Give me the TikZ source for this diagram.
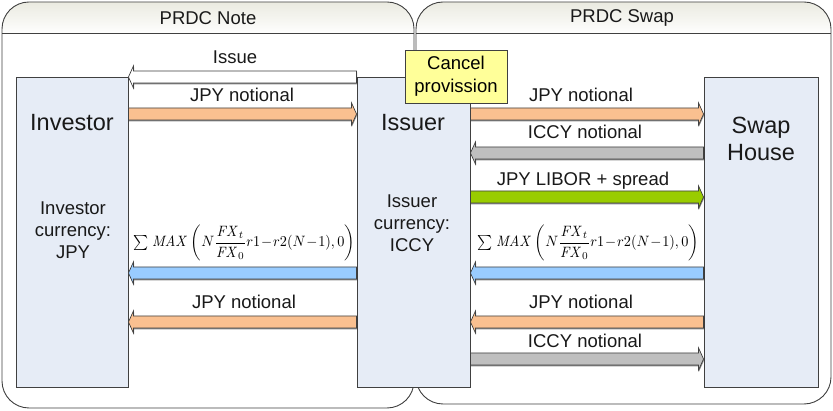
\documentclass[tikz,border=0pt]{standalone}
\usepackage[no-math]{fontspec}
\setmainfont{Liberation Sans}
\usepackage{graphicx}
\usetikzlibrary{calc,shadows}
\definecolor{boxfill}{RGB}{230,236,246}
\definecolor{edge}{RGB}{64,64,64}
\definecolor{arrOrange}{RGB}{250,192,144}
\definecolor{arrGray}{RGB}{191,191,191}
\definecolor{arrGreen}{RGB}{153,204,0}
\definecolor{arrBlue}{RGB}{153,204,255}
\definecolor{noteYellow}{RGB}{255,255,153}
\definecolor{headTop}{RGB}{234,234,224}
\tikzset{
  party/.style={draw=edge, line width=0.9pt, fill=boxfill, minimum height=310pt, inner sep=0pt},
  lbl/.style={font=\fontsize{18.5}{22}\selectfont, inner sep=0pt, text=black!90},
  bigl/.style={font=\fontsize{23.5}{27}\selectfont, inner sep=0pt, align=center, text=black!90},
  smalll/.style={font=\fontsize{18.5}{22}\selectfont, inner sep=0pt, align=center, text=black!90},
  frame/.style={draw=edge, line width=0.9pt, rounded corners=27pt},
  barrow/.style={draw=edge, line width=0.7pt,
    drop shadow={shadow xshift=0.6pt, shadow yshift=-1.3pt, opacity=0.45, fill=black}},
}
\newcommand\blockarrow[3]{%
  \path[barrow, fill=#1]
    let \p1=#2, \p2=#3, \p3=($(\p2)!5pt!(\p1)$) in
    (\x1,\y1+6pt) -- (\x3,\y1+6pt) -- (\x3,\y1+11pt) -- (\x2,\y1)
    -- (\x3,\y1-11pt) -- (\x3,\y1-6pt) -- (\x1,\y1-6pt) -- cycle;}
\newcommand\prdcformula{\resizebox*{222pt}{36pt}{$\displaystyle {\textstyle\sum}\ \mathit{MAX}\left(N\frac{\mathit{FX}_t}{\mathit{FX}_0}r1\mathbin{\!-\!}r2(N\mathbin{\!-\!}1),0\right)$}}
\begin{document}
\begin{tikzpicture}[x=1pt,y=-1pt]
\useasboundingbox (0,0) rectangle (833,411);
% containers
\begin{scope}
  \clip[rounded corners=27pt] (2,2) rectangle (414,408);
  \fill[white] (2,2) rectangle (414,408);
  \shade[top color=headTop, bottom color=white!96!headTop] (2,2) rectangle (414,33);
\end{scope}
\draw[frame] (2,2) rectangle (414,408);
\draw[edge, line width=0.9pt] (2,33) -- (414,33);
\begin{scope}
  \clip[rounded corners=27pt] (416,2) rectangle (831,404);
  \fill[white] (416,2) rectangle (831,404);
  \shade[top color=headTop, bottom color=white!96!headTop] (416,2) rectangle (831,33);
\end{scope}
\draw[frame] (416,2) rectangle (831,404);
\draw[edge, line width=0.9pt] (416,33) -- (831,33);
\node[lbl] (hNote) at (208,18) {PRDC Note};
\node[lbl] (hSwap) at (622,18) {PRDC Swap};
% parties
\node[party, minimum width=112pt] (investor) at (72,232) {};
\node[party, minimum width=113pt] (issuer) at (413.5,232) {};
\node[party, minimum width=114pt] (swap) at (761,232) {};
\node[bigl] (tInvestor) at (72,123) {Investor};
\node[bigl] (tIssuer) at (413,123) {Issuer};
\node[bigl] (tSwap) at (761,138.5) {Swap\\House};
\node[smalll] (cInvestor) at (73,230) {Investor\\currency:\\JPY};
\node[smalll] (cIssuer) at (412,223) {Issuer\\currency:\\ICCY};
% cancel provision
\node[draw=edge, line width=0.9pt, fill=noteYellow, minimum width=102pt, minimum height=53pt,
      inner sep=0pt, align=center, font=\fontsize{18.5}{23}\selectfont] (cancel) at (456,76.5) {Cancel\\provission};
% PRDC note arrows
\blockarrow{white}{(issuer.west |- 0,77)}{(investor.east |- 0,77)}
\node[lbl] (lIssue) at (235,57) {Issue};
\blockarrow{arrOrange}{(investor.east |- 0,114)}{(issuer.west |- 0,114)}
\node[lbl] (lJPY1) at (242,95) {JPY notional};
\node[inner sep=0pt] (fL) at (244,243) {\prdcformula};
\blockarrow{arrBlue}{(issuer.west |- 0,273)}{(investor.east |- 0,273)}
\blockarrow{arrOrange}{(issuer.west |- 0,322)}{(investor.east |- 0,322)}
\node[lbl] (lJPY2) at (244,302) {JPY notional};
% PRDC swap arrows
\blockarrow{arrOrange}{(issuer.east |- 0,114)}{(swap.west |- 0,114)}
\node[lbl] (lJPY3) at (581,95) {JPY notional};
\blockarrow{arrGray}{(swap.west |- 0,153)}{(issuer.east |- 0,153)}
\node[lbl] (lICCY1) at (585,132) {ICCY notional};
\blockarrow{arrGreen}{(issuer.east |- 0,197)}{(swap.west |- 0,197)}
\node[lbl] (lLIBOR) at (583,181) {JPY LIBOR + spread};
\node[inner sep=0pt] (fR) at (588,243) {\prdcformula};
\blockarrow{arrBlue}{(swap.west |- 0,273)}{(issuer.east |- 0,273)}
\blockarrow{arrOrange}{(swap.west |- 0,322)}{(issuer.east |- 0,322)}
\node[lbl] (lJPY4) at (581,302) {JPY notional};
\blockarrow{arrGray}{(issuer.east |- 0,359)}{(swap.west |- 0,359)}
\node[lbl] (lICCY2) at (585,341) {ICCY notional};
\end{tikzpicture}
\end{document}
